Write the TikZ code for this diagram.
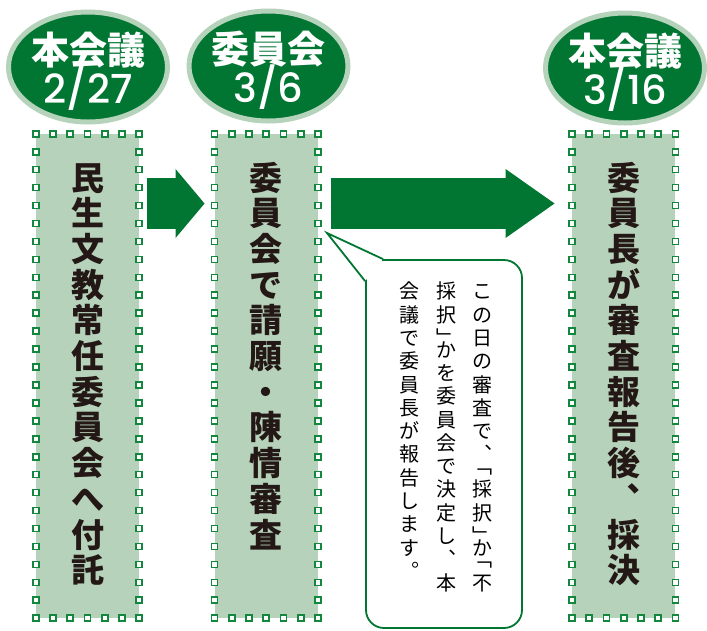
\documentclass[tikz,border=0pt]{standalone}
\usepackage{fontspec}
\usepackage{tikz}
\usetikzlibrary{arrows.meta}
\usetikzlibrary{shapes.geometric}
\usetikzlibrary{calc}
\usetikzlibrary{positioning}

\newfontfamily\jpfont{Noto Sans CJK JP}
\newfontfamily\numfont{Poppins Medium}
\newcommand\topstrut{\rule{0pt}{0.88em}}

\definecolor{deepgreen}{RGB}{0,118,50}
\definecolor{palegreen}{RGB}{180,211,186}
\definecolor{panelgreen}{RGB}{183,210,186}
\definecolor{stampgreen}{RGB}{20,135,62}
\definecolor{inkgray}{RGB}{35,24,21}

\tikzset{
  dayoval/.style={ellipse,fill=deepgreen,draw=palegreen,line width=5,
    minimum width=159,minimum height=110,inner sep=0},
  ovaltitle/.style={text=white,inner sep=0,anchor=base,
    font=\jpfont\bfseries\fontsize{38}{38}\selectfont},
  ovaldate/.style={text=white,inner sep=0,anchor=base,
    font=\numfont\fontsize{40}{40}\selectfont},
  panel/.style={fill=panelgreen,minimum width=103,minimum height=484,inner sep=0},
  stamp/.style={draw=stampgreen,fill=white,line width=1.6},
  paneltext/.style={text=inkgray,align=center,inner sep=0,
    font=\jpfont\bfseries\fontsize{33}{35.7}\selectfont},
  blockarrow/.style={draw=deepgreen,line width=51},
  note/.style={draw=deepgreen,fill=white,line width=1.8,rounded corners=18,
    minimum width=156,minimum height=368,inner sep=0},
  noteline/.style={draw=deepgreen,line width=1.8},
  notetext/.style={text=black,align=center,inner sep=0,anchor=north,
    font=\jpfont\fontsize{20}{23.3}\selectfont}
}

\begin{document}
\begin{tikzpicture}[x=1pt,y=-1pt]
\useasboundingbox (0,0) rectangle (707,630);

\node[dayoval] (e1) at (88,67) {};
\node[dayoval] (e2) at (268.5,66) {};
\node[dayoval] (e3) at (625,68) {};
\node[ovaltitle] (h1) at ([yshift=3pt]e1.center) {本会議};
\node[ovaldate] (d1) at ([yshift=-36pt]e1.center) {2/27};
\node[ovaltitle] (h2) at ([yshift=3pt]e2.center) {委員会};
\node[ovaldate] (d2) at ([yshift=-36pt]e2.center) {3/6};
\node[ovaltitle] (h3) at ([yshift=3pt]e3.center) {本会議};
\node[ovaldate] (d3) at ([yshift=-36pt]e3.center) {3/16};

\node[panel] (b1) at (87.5,376) {};
\node[panel] (b2) at (266.25,376) {};
\node[panel] (b3) at (623.75,376) {};
\foreach \b in {b1,b2,b3} {
  \foreach \i in {0,...,6} {
    \draw[stamp] ($(\b.north west)!\i/6!(\b.north east)$) ++(-3,-3) rectangle ++(6,6);
    \draw[stamp] ($(\b.south west)!\i/6!(\b.south east)$) ++(-3,-3) rectangle ++(6,6);
  }
  \foreach \i in {1,...,26} {
    \draw[stamp] ($(\b.north west)!\i/27!(\b.south west)$) ++(-3,-3) rectangle ++(6,6);
    \draw[stamp] ($(\b.north east)!\i/27!(\b.south east)$) ++(-3,-3) rectangle ++(6,6);
  }
}

\node[paneltext,below=27pt of b1.north] (t1)
  {\topstrut 民\\生\\文\\教\\常\\任\\委\\員\\会\\へ\\付\\託};
\node[paneltext,below=27pt of b2.north] (t2)
  {\topstrut 委\\員\\会\\で\\請\\願\\・\\陳\\情\\審\\査};
\node[paneltext,below=27pt of b3.north] (t3)
  {\topstrut 委\\員\\長\\が\\審\\査\\報\\告\\後\\︑\\採\\決};

\coordinate (lane) at (0,203.5);
\draw[blockarrow,-{Triangle[length=29pt,width=69pt,line width=0pt]},
  shorten <=8pt,shorten >=10pt] (b1.east |- lane) -- (b2.west |- lane);
\draw[blockarrow,-{Triangle[length=49pt,width=69pt,line width=0pt]},
  shorten <=13.5pt,shorten >=17.5pt] (b2.east |- lane) -- (b3.west |- lane);

\node[note] (note) at (444,444) {};
\coordinate (tip) at (327,233);
\fill[white] (tip) -- ([xshift=18pt]note.north west) -- ([yshift=-22pt]note.north west) -- cycle;
\draw[noteline] ([xshift=18pt]note.north west) -- (tip) -- ([yshift=-22pt]note.north west);

\node[notetext] (c1) at (482,281)
  {\topstrut こ\\の\\日\\の\\審\\査\\で\\︑\\[-11.6pt]﹁\\採\\択\\﹂\\[-11.6pt]か\\[-11.6pt]﹁\\不};
\node[notetext] (c2) at (446,281)
  {\topstrut 採\\択\\﹂\\[-11.6pt]か\\を\\委\\員\\会\\で\\決\\定\\し\\︑\\本};
\node[notetext] (c3) at (409,281)
  {\topstrut 会\\議\\で\\委\\員\\長\\が\\報\\告\\し\\ま\\す\\︒};
\end{tikzpicture}
\end{document}
